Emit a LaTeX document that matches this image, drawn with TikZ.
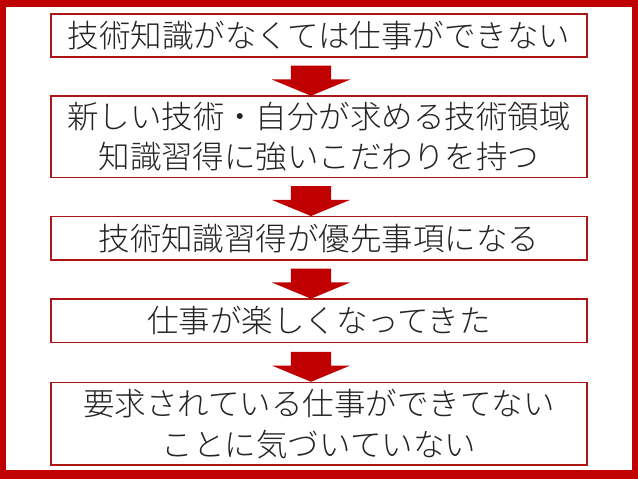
\documentclass[tikz,border=0pt]{standalone}
\usepackage{fontspec}
\setmainfont{Noto Sans CJK JP}[UprightFont=* Light]
\usetikzlibrary{positioning,calc,shapes.arrows}
\definecolor{framered}{RGB}{192,0,0}
\definecolor{boxred}{RGB}{172,22,22}
\definecolor{inkgray}{RGB}{35,35,35}

\begin{document}
\begin{tikzpicture}[x=1pt,y=1pt,
  stepbox/.style={draw=boxred,line width=1.6pt,minimum width=536pt,minimum height=43.5pt,
    inner sep=0pt,align=center,text=inkgray,font=\fontsize{31.5}{40.5}\selectfont},
  downarrow/.style={single arrow,fill=framered,draw=none,rotate=-90,inner sep=0pt,
    inner ysep=20pt,minimum height=30pt,minimum width=78pt,
    single arrow head extend=19pt,single arrow tip angle=135}]
  \useasboundingbox (0,0) rectangle (638,-479);
  % frame
  \fill[framered] (0,0) rectangle (638,-479);
  \fill[white] (6,-7) rectangle (632,-470);
  % steps
  \node[stepbox] (b1) at (319,-35.5) {技術知識がなくては仕事ができない};
  \node[stepbox,minimum height=81.5pt,below=37pt of b1] (b2) {新しい技術・自分が求める技術領域\\知識習得に強いこだわりを持つ};
  \node[stepbox,below=37.5pt of b2] (b3) {技術知識習得が優先事項になる};
  \node[stepbox,below=37.5pt of b3] (b4) {仕事が楽しくなってきた};
  \node[stepbox,minimum height=82.5pt,below=38.5pt of b4] (b5) {要求されている仕事ができてない\\ことに気づいていない};
  % arrows
  \node[downarrow] (a1) at ($(b1.south)!.5!(b2.north)+(-8,0)$) {};
  \node[downarrow] (a2) at ($(b2.south)!.5!(b3.north)+(-8,0)$) {};
  \node[downarrow] (a3) at ($(b3.south)!.5!(b4.north)+(-8,0)$) {};
  \node[downarrow] (a4) at ($(b4.south)!.5!(b5.north)+(-8,0)$) {};
\end{tikzpicture}
\end{document}
